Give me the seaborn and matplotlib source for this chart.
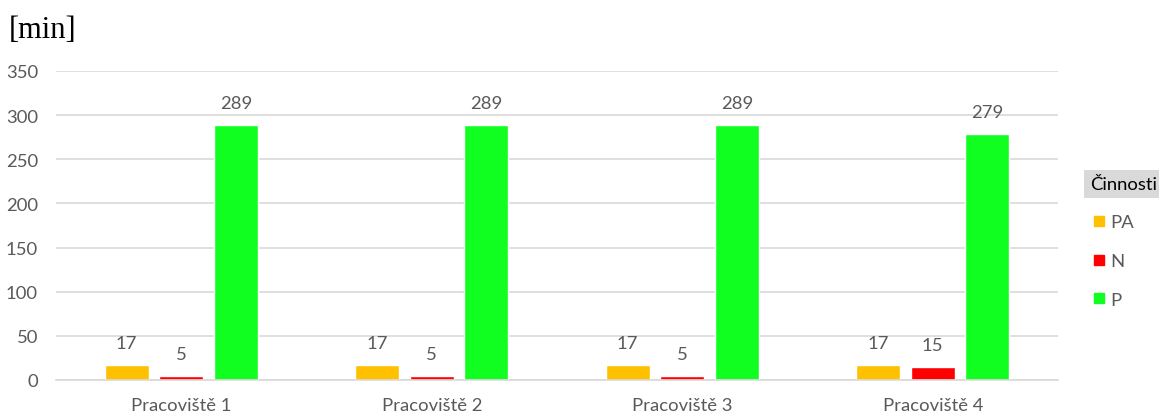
import matplotlib
matplotlib.use("Agg")
import matplotlib.pyplot as plt
from matplotlib.lines import Line2D
import seaborn as sns
import pandas as pd

workplaces = ["Pracoviště 1", "Pracoviště 2", "Pracoviště 3", "Pracoviště 4"]
activities = ["PA", "N", "P"]
pa_values = [17, 17, 17, 17]
n_values = [5, 5, 5, 15]
p_values = [289, 289, 289, 279]
colors = ["#FFC000", "#FF0000", "#10FF20"]
y_ticks = [0, 50, 100, 150, 200, 250, 300, 350]

rows = []
for act, vals in zip(activities, [pa_values, n_values, p_values]):
    for wp, v in zip(workplaces, vals):
        rows.append({"Pracoviště": wp, "Činnosti": act, "min": v})
df = pd.DataFrame(rows)

sns.set_theme(style="white")
plt.rcParams["font.family"] = ["Lato", "DejaVu Sans"]
text_gray = "#595959"
grid_gray = "#d9d9d9"
fs = 13.3

fig = plt.figure(figsize=(11.59, 4.14), dpi=100)
ax = fig.add_axes([56 / 1159, 1 - 381 / 414, (1058 - 56) / 1159, (381 - 72) / 414])

sns.barplot(data=df, x="Pracoviště", y="min", hue="Činnosti", order=workplaces,
            hue_order=activities, palette=colors, width=0.653, gap=0.2,
            saturation=1, ax=ax, legend=False)

ax.set_ylim(0, 350)
ax.set_xlim(-0.5, len(workplaces) - 0.5)
ax.set_yticks(y_ticks)
ax.yaxis.grid(True, color=grid_gray, linewidth=1.2)
ax.set_axisbelow(True)
for side in ["top", "right", "left"]:
    ax.spines[side].set_visible(False)
ax.spines["bottom"].set_color(grid_gray)
ax.spines["bottom"].set_linewidth(1.2)
ax.tick_params(axis="both", length=0, labelsize=fs, labelcolor=text_gray)
ax.tick_params(axis="y", pad=13)
ax.tick_params(axis="x", pad=12)
ax.set_xlabel("")
ax.set_ylabel("")

for container in ax.containers:
    ax.bar_label(container, padding=10, fontsize=fs, color=text_gray)

fig.text(9 / 1159, 1 - 31 / 414, "[min]", fontsize=22, family="Liberation Serif",
         color="black", va="center", ha="left")

handles = [Line2D([], [], marker="s", linestyle="none", markersize=7,
                  markerfacecolor=c, markeredgecolor=c) for c in colors]
leg = ax.legend(handles, activities, title="Činnosti", loc="upper left",
                bbox_to_anchor=(1077 / 1159, 1 - 164 / 414), bbox_transform=fig.transFigure,
                frameon=False, fontsize=fs, title_fontsize=fs, labelspacing=1.22,
                handletextpad=0.1, handlelength=1.0, alignment="left", borderpad=0.2)
for t in leg.get_texts():
    t.set_color(text_gray)
title = leg.get_title()
title.set_color("black")
title.set_bbox(dict(facecolor="#d9d9d9", edgecolor="none", pad=4.5))

fig.savefig("out.png", dpi=100)
